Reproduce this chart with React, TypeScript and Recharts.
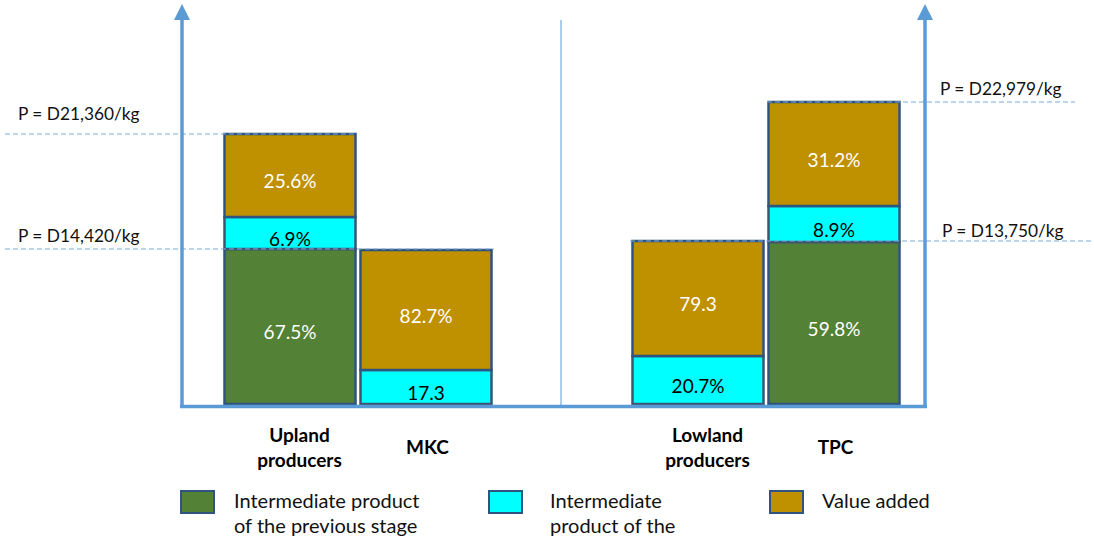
import React from 'react';
import { BarChart, Bar, XAxis, YAxis, ReferenceLine, LabelList, Legend } from 'recharts';

// ---- data ----
const categories = ['Upland producers', 'MKC', ' ', 'Lowland producers', 'TPC'];
const prevStage = [155, 0, 0, 0, 162];
const intermediate = [32, 34, 0, 48, 36];
const valueAdded = [83, 120, 0, 115, 104];
const prevLabels = ['67.5%', '', '', '', '59.8%'];
const interLabels = ['6.9%', '17.3', '', '20.7%', '8.9%'];
const vaLabels = ['25.6%', '82.7%', '', '79.3', '31.2%'];
const priceLabels = ['P = D21,360/kg', 'P = D14,420/kg', 'P = D22,979/kg', 'P = D13,750/kg'];
const seriesNames = [
  'Intermediate product of the previous stage',
  'Intermediate product of the',
  'Value added',
];
const legendLines = [
  ['Intermediate product', 'of the previous stage'],
  ['Intermediate', 'product of the'],
  ['Value added'],
];

const data = categories.map((name, i) => ({
  name,
  prev: prevStage[i],
  inter: intermediate[i],
  va: valueAdded[i],
  prevLabel: prevLabels[i],
  interLabel: interLabels[i],
  vaLabel: vaLabels[i],
}));

const total = (i: number) => prevStage[i] + intermediate[i] + valueAdded[i];
const priceLevels = [total(0), prevStage[0], total(4), total(3)];

// ---- styles ----
const FONT = 'Lato, "Open Sans", sans-serif';
const AXIS = '#5B9BD5';
const DASH = '#7DA9DC';
const GREEN = '#538135';
const CYAN = '#00FFFF';
const GOLD = '#BF9000';
const EDGE = '#2F5480';

const W = 1094;
const H = 538;

// x extents and label positions of price lines (annotation layout)
const priceLineLayout = [
  { xs: 5, xe: 356, tx: 18, dy: -14 },
  { xs: 5, xe: 494, tx: 18, dy: -7 },
  { xs: 767, xe: 1075, tx: 940, dy: -7 },
  { xs: 630, xe: 1094, tx: 942, dy: -4 },
];

const makePriceShape = (idx: number) => (props: any) => {
  const l = priceLineLayout[idx];
  const y = props.y1;
  return (
    <g>
      <line x1={l.xs} x2={l.xe} y1={y} y2={y} stroke={DASH} strokeWidth={1.2} strokeDasharray="5 3" />
      <text x={l.tx} y={y + l.dy} fontFamily={FONT} fontSize={17.3} fill="#111">
        {priceLabels[idx]}
      </text>
    </g>
  );
};

const makeLabel = (color: string) => (p: any) => {
  if (!p.value || !p.height) return null;
  return (
    <text
      x={p.x + p.width / 2}
      y={p.y + p.height / 2 + 5}
      textAnchor="middle"
      dominantBaseline="central"
      fontFamily={FONT}
      fontSize={19}
      fill={color}
    >
      {p.value}
    </text>
  );
};

const CategoryTick = (props: any) => {
  const { x, y, payload } = props;
  const label: string = payload.value;
  if (!label.trim()) return null;
  const words = label.split(' ');
  const base = y + 30;
  if (words.length === 1) {
    return (
      <text x={x + 2} y={base + 12} textAnchor="middle" fontFamily={FONT} fontWeight={700} fontSize={19} fill="#000">
        {label}
      </text>
    );
  }
  return (
    <text x={x + 10} y={base} textAnchor="middle" fontFamily={FONT} fontWeight={700} fontSize={19} fill="#000">
      {words.map((w, i) => (
        <tspan key={i} x={x + 10} dy={i === 0 ? 0 : 25}>
          {w}
        </tspan>
      ))}
    </text>
  );
};

const legendLefts = [180, 488, 769];
const legendFills = [GREEN, CYAN, GOLD];
const legendGaps = [19, 27, 18];

const renderLegend = () => (
  <div style={{ position: 'relative', width: W, height: 60 }}>
    {legendLines.map((lines, i) => (
      <div key={i} style={{ position: 'absolute', left: legendLefts[i], top: 0, display: 'flex' }}>
        <div
          style={{
            width: 31,
            height: 20,
            background: legendFills[i],
            border: `2.5px solid ${EDGE}`,
            marginTop: 1,
            flexShrink: 0,
          }}
        />
        <div
          style={{
            marginLeft: legendGaps[i],
            fontFamily: FONT,
            fontSize: 20,
            lineHeight: '25px',
            color: '#111',
            marginTop: -1,
            whiteSpace: 'nowrap',
          }}
        >
          {lines.map((t, k) => (
            <div key={k}>{t}</div>
          ))}
        </div>
      </div>
    ))}
  </div>
);

export default function App() {
  return (
    <div style={{ position: 'absolute', left: 0, top: 0, width: W, height: H, background: '#fff', overflow: 'hidden' }}>
      <div style={{ position: 'absolute', left: 0, top: 0 }}>
        <BarChart
          width={W}
          height={H}
          data={data}
          margin={{ top: 4, right: 192.5, bottom: 14, left: 221.5 }}
          barSize={131}
        >
          <XAxis dataKey="name" axisLine={false} tickLine={false} height={60} interval={0} tick={<CategoryTick />} />
          <YAxis hide domain={[0, 400]} />
          <Bar dataKey="prev" name={seriesNames[0]} stackId="a" fill={GREEN} stroke={EDGE} strokeWidth={2.5} isAnimationActive={false}>
            <LabelList dataKey="prevLabel" content={makeLabel('#fff')} />
          </Bar>
          <Bar dataKey="inter" name={seriesNames[1]} stackId="a" fill={CYAN} stroke="#3B5573" strokeWidth={2.5} isAnimationActive={false}>
            <LabelList dataKey="interLabel" content={makeLabel('#000')} />
          </Bar>
          <Bar dataKey="va" name={seriesNames[2]} stackId="a" fill={GOLD} stroke={EDGE} strokeWidth={2.5} isAnimationActive={false}>
            <LabelList dataKey="vaLabel" content={makeLabel('#fff')} />
          </Bar>
          {priceLevels.map((v, i) => (
            <ReferenceLine key={i} y={v} ifOverflow="visible" shape={makePriceShape(i)} />
          ))}
          <Legend content={renderLegend} wrapperStyle={{ position: 'absolute', left: 0, top: 489, width: W }} />
        </BarChart>
      </div>
      <svg width={W} height={H} style={{ position: 'absolute', left: 0, top: 0, pointerEvents: 'none' }}>
        <line x1={561} x2={561} y1={20} y2={406} stroke={AXIS} strokeWidth={1} />
        <line x1={182} x2={182} y1={408} y2={18} stroke={AXIS} strokeWidth={3.5} />
        <polygon points="174,20 190,20 182,4" fill={AXIS} />
        <line x1={925} x2={925} y1={408} y2={18} stroke={AXIS} strokeWidth={3.5} />
        <polygon points="917,20 933,20 925,4" fill={AXIS} />
        <line x1={180} x2={927} y1={406.5} y2={406.5} stroke={AXIS} strokeWidth={3.5} />
      </svg>
    </div>
  );
}
